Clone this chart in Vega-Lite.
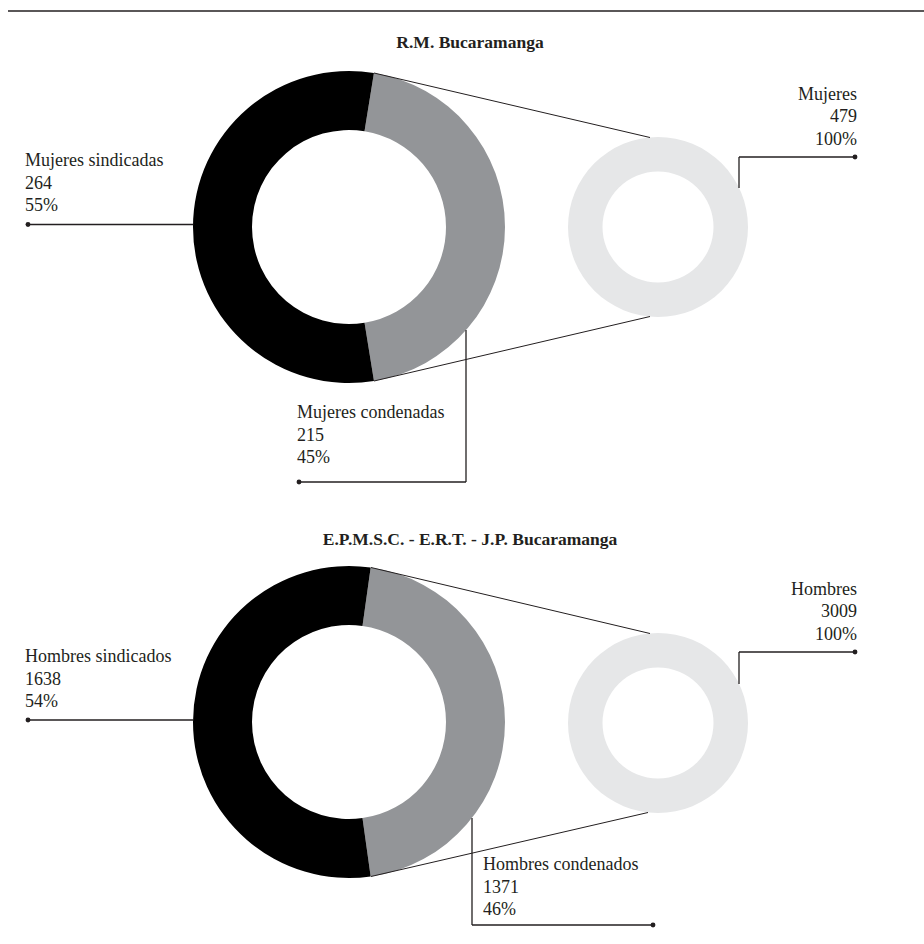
{
  "$schema": "https://vega.github.io/schema/vega-lite/v6.json",
  "width": 924,
  "height": 944,
  "padding": 0,
  "autosize": {"type": "none"},
  "background": "white",
  "config": {"view": {"stroke": null}, "text": {"font": "Liberation Serif", "color": "#231f20"}},
  "datasets": {
    "segmentos": [
      {"panel": "RM", "anillo": "desglose", "categoria": "condenada", "grupo": "Mujeres condenadas", "valor": 215, "porcentaje": 0.45, "ex": 297, "ey": 418, "lado": "izquierda"},
      {"panel": "RM", "anillo": "desglose", "categoria": "sindicada", "grupo": "Mujeres sindicadas", "valor": 264, "porcentaje": 0.55, "ex": 25, "ey": 166, "lado": "izquierda"},
      {"panel": "RM", "anillo": "total", "categoria": "total", "grupo": "Mujeres", "valor": 479, "porcentaje": 1, "ex": 857, "ey": 99.5, "lado": "derecha"},
      {"panel": "EP", "anillo": "desglose", "categoria": "condenada", "grupo": "Hombres condenados", "valor": 1371, "porcentaje": 0.46, "ex": 483, "ey": 870, "lado": "izquierda"},
      {"panel": "EP", "anillo": "desglose", "categoria": "sindicada", "grupo": "Hombres sindicados", "valor": 1638, "porcentaje": 0.54, "ex": 25, "ey": 662, "lado": "izquierda"},
      {"panel": "EP", "anillo": "total", "categoria": "total", "grupo": "Hombres", "valor": 3009, "porcentaje": 1, "ex": 857, "ey": 594.5, "lado": "derecha"}
    ],
    "titulos": [
      {"titulo": "R.M. Bucaramanga", "x": 470, "y": 48},
      {"titulo": "E.P.M.S.C. - E.R.T. - J.P. Bucaramanga", "x": 470, "y": 545}
    ],
    "lineas": [
      {"tipo": "borde", "x": 8, "y": 11, "x2": 924, "y2": 11},
      {"tipo": "conector", "x": 374, "y": 73, "x2": 650, "y2": 137.5},
      {"tipo": "conector", "x": 374, "y": 381, "x2": 650, "y2": 316.5},
      {"tipo": "conector", "x": 371, "y": 567.5, "x2": 650, "y2": 633.5},
      {"tipo": "conector", "x": 371, "y": 876.5, "x2": 648, "y2": 812.5},
      {"tipo": "guia", "x": 28, "y": 224.5, "x2": 193, "y2": 224.5},
      {"tipo": "guia", "x": 739, "y": 157, "x2": 855, "y2": 157},
      {"tipo": "guia", "x": 739, "y": 157, "x2": 739, "y2": 188},
      {"tipo": "guia", "x": 299, "y": 482, "x2": 466, "y2": 482},
      {"tipo": "guia", "x": 466, "y": 482, "x2": 466, "y2": 330},
      {"tipo": "guia", "x": 28, "y": 720, "x2": 193, "y2": 720},
      {"tipo": "guia", "x": 739, "y": 652, "x2": 855, "y2": 652},
      {"tipo": "guia", "x": 739, "y": 652, "x2": 739, "y2": 684},
      {"tipo": "guia", "x": 472, "y": 925, "x2": 653, "y2": 925},
      {"tipo": "guia", "x": 472, "y": 925, "x2": 472, "y2": 818}
    ],
    "puntos": [
      {"x": 28, "y": 224.5},
      {"x": 855, "y": 157},
      {"x": 299, "y": 482},
      {"x": 28, "y": 720},
      {"x": 855, "y": 652},
      {"x": 653, "y": 925}
    ]
  },
  "resolve": {"scale": {"theta": "independent"}},
  "layer": [
    {
      "data": {"name": "segmentos"},
      "transform": [{"filter": "datum.panel === 'RM' && datum.anillo === 'desglose'"}],
      "mark": {"type": "arc", "radius": 156, "radius2": 97},
      "encoding": {
        "x": {"datum": 349, "type": "quantitative", "scale": {"domain": [0, 924], "nice": false, "zero": false}, "axis": null},
        "y": {"datum": 227, "type": "quantitative", "scale": {"domain": [0, 944], "nice": false, "zero": false, "reverse": true}, "axis": null},
        "theta": {"field": "valor", "type": "quantitative", "stack": true, "scale": {"range": [0.1605, 6.4437]}},
        "order": {"field": "categoria", "sort": "ascending"},
        "color": {"field": "categoria", "type": "nominal", "scale": {"domain": ["condenada", "sindicada", "total"], "range": ["#939598", "#000000", "#e6e7e8"]}, "legend": null}
      }
    },
    {
      "data": {"name": "segmentos"},
      "transform": [{"filter": "datum.panel === 'RM' && datum.anillo === 'total'"}],
      "mark": {"type": "arc", "radius": 90, "radius2": 55.5},
      "encoding": {
        "x": {"datum": 658, "type": "quantitative", "scale": {"domain": [0, 924], "nice": false, "zero": false}, "axis": null},
        "y": {"datum": 227, "type": "quantitative", "scale": {"domain": [0, 944], "nice": false, "zero": false, "reverse": true}, "axis": null},
        "theta": {"field": "valor", "type": "quantitative", "stack": true},
        "color": {"field": "categoria", "type": "nominal", "scale": {"domain": ["condenada", "sindicada", "total"], "range": ["#939598", "#000000", "#e6e7e8"]}, "legend": null}
      }
    },
    {
      "data": {"name": "segmentos"},
      "transform": [{"filter": "datum.panel === 'EP' && datum.anillo === 'desglose'"}],
      "mark": {"type": "arc", "radius": 156, "radius2": 97},
      "encoding": {
        "x": {"datum": 349, "type": "quantitative", "scale": {"domain": [0, 924], "nice": false, "zero": false}, "axis": null},
        "y": {"datum": 722, "type": "quantitative", "scale": {"domain": [0, 944], "nice": false, "zero": false, "reverse": true}, "axis": null},
        "theta": {"field": "valor", "type": "quantitative", "stack": true, "scale": {"range": [0.1394, 6.4226]}},
        "order": {"field": "categoria", "sort": "ascending"},
        "color": {"field": "categoria", "type": "nominal", "scale": {"domain": ["condenada", "sindicada", "total"], "range": ["#939598", "#000000", "#e6e7e8"]}, "legend": null}
      }
    },
    {
      "data": {"name": "segmentos"},
      "transform": [{"filter": "datum.panel === 'EP' && datum.anillo === 'total'"}],
      "mark": {"type": "arc", "radius": 90, "radius2": 55.5},
      "encoding": {
        "x": {"datum": 658, "type": "quantitative", "scale": {"domain": [0, 924], "nice": false, "zero": false}, "axis": null},
        "y": {"datum": 723, "type": "quantitative", "scale": {"domain": [0, 944], "nice": false, "zero": false, "reverse": true}, "axis": null},
        "theta": {"field": "valor", "type": "quantitative", "stack": true},
        "color": {"field": "categoria", "type": "nominal", "scale": {"domain": ["condenada", "sindicada", "total"], "range": ["#939598", "#000000", "#e6e7e8"]}, "legend": null}
      }
    },
    {
      "data": {"name": "lineas"},
      "transform": [{"filter": "datum.tipo === 'borde'"}],
      "mark": {"type": "rule", "color": "#231f20", "strokeWidth": 1.5},
      "encoding": {
        "x": {"field": "x", "type": "quantitative", "scale": {"domain": [0, 924], "nice": false, "zero": false}, "axis": null},
        "y": {"field": "y", "type": "quantitative", "scale": {"domain": [0, 944], "nice": false, "zero": false, "reverse": true}, "axis": null},
        "x2": {"field": "x2"},
        "y2": {"field": "y2"}
      }
    },
    {
      "data": {"name": "lineas"},
      "transform": [{"filter": "datum.tipo === 'conector'"}],
      "mark": {"type": "rule", "color": "#231f20", "strokeWidth": 1},
      "encoding": {
        "x": {"field": "x", "type": "quantitative", "scale": {"domain": [0, 924], "nice": false, "zero": false}, "axis": null},
        "y": {"field": "y", "type": "quantitative", "scale": {"domain": [0, 944], "nice": false, "zero": false, "reverse": true}, "axis": null},
        "x2": {"field": "x2"},
        "y2": {"field": "y2"}
      }
    },
    {
      "data": {"name": "lineas"},
      "transform": [{"filter": "datum.tipo === 'guia'"}],
      "mark": {"type": "rule", "color": "#231f20", "strokeWidth": 1.3},
      "encoding": {
        "x": {"field": "x", "type": "quantitative", "scale": {"domain": [0, 924], "nice": false, "zero": false}, "axis": null},
        "y": {"field": "y", "type": "quantitative", "scale": {"domain": [0, 944], "nice": false, "zero": false, "reverse": true}, "axis": null},
        "x2": {"field": "x2"},
        "y2": {"field": "y2"}
      }
    },
    {
      "data": {"name": "puntos"},
      "mark": {"type": "circle", "color": "#231f20", "size": 24, "opacity": 1},
      "encoding": {
        "x": {"field": "x", "type": "quantitative", "scale": {"domain": [0, 924], "nice": false, "zero": false}, "axis": null},
        "y": {"field": "y", "type": "quantitative", "scale": {"domain": [0, 944], "nice": false, "zero": false, "reverse": true}, "axis": null}
      }
    },
    {
      "data": {"name": "titulos"},
      "mark": {"type": "text", "fontSize": 17.5, "fontWeight": "bold", "align": "center", "baseline": "alphabetic"},
      "encoding": {
        "x": {"field": "x", "type": "quantitative", "scale": {"domain": [0, 924], "nice": false, "zero": false}, "axis": null},
        "y": {"field": "y", "type": "quantitative", "scale": {"domain": [0, 944], "nice": false, "zero": false, "reverse": true}, "axis": null},
        "text": {"field": "titulo"}
      }
    },
    {
      "data": {"name": "segmentos"},
      "transform": [{"filter": "datum.lado === 'izquierda'"}],
      "layer": [
        {"mark": {"type": "text", "fontSize": 18, "align": "left", "baseline": "alphabetic", "dy": 0}, "encoding": {"text": {"field": "grupo"}}},
        {"mark": {"type": "text", "fontSize": 18, "align": "left", "baseline": "alphabetic", "dy": 22.5}, "encoding": {"text": {"field": "valor", "type": "quantitative", "format": "d"}}},
        {"mark": {"type": "text", "fontSize": 18, "align": "left", "baseline": "alphabetic", "dy": 45}, "encoding": {"text": {"field": "porcentaje", "type": "quantitative", "format": ".0%"}}}
      ],
      "encoding": {
        "x": {"field": "ex", "type": "quantitative", "scale": {"domain": [0, 924], "nice": false, "zero": false}, "axis": null},
        "y": {"field": "ey", "type": "quantitative", "scale": {"domain": [0, 944], "nice": false, "zero": false, "reverse": true}, "axis": null}
      }
    },
    {
      "data": {"name": "segmentos"},
      "transform": [{"filter": "datum.lado === 'derecha'"}],
      "layer": [
        {"mark": {"type": "text", "fontSize": 18, "align": "right", "baseline": "alphabetic", "dy": 0}, "encoding": {"text": {"field": "grupo"}}},
        {"mark": {"type": "text", "fontSize": 18, "align": "right", "baseline": "alphabetic", "dy": 22.5}, "encoding": {"text": {"field": "valor", "type": "quantitative", "format": "d"}}},
        {"mark": {"type": "text", "fontSize": 18, "align": "right", "baseline": "alphabetic", "dy": 45}, "encoding": {"text": {"field": "porcentaje", "type": "quantitative", "format": ".0%"}}}
      ],
      "encoding": {
        "x": {"field": "ex", "type": "quantitative", "scale": {"domain": [0, 924], "nice": false, "zero": false}, "axis": null},
        "y": {"field": "ey", "type": "quantitative", "scale": {"domain": [0, 944], "nice": false, "zero": false, "reverse": true}, "axis": null}
      }
    }
  ]
}
